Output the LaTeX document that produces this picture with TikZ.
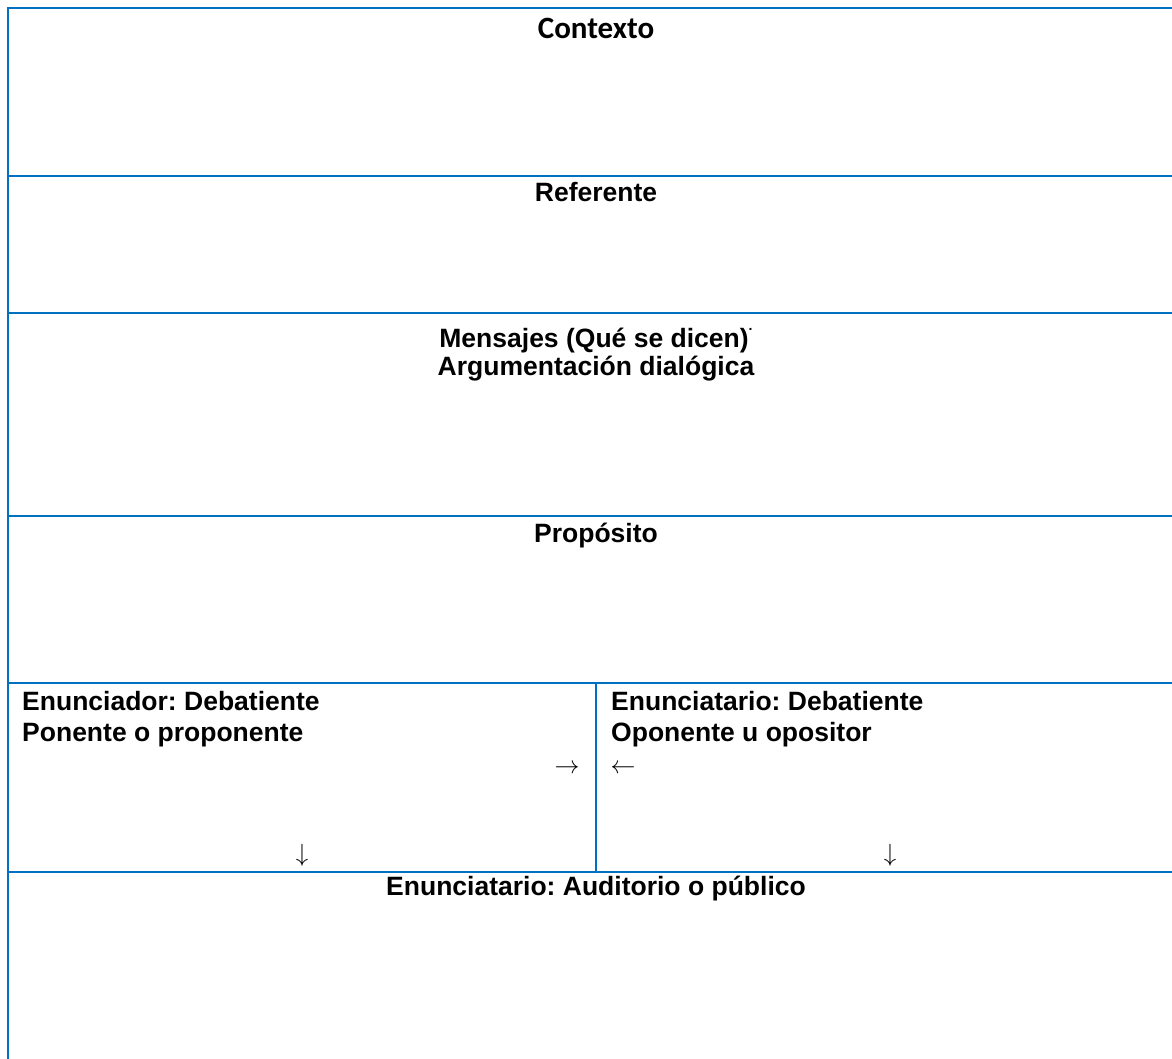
\documentclass[tikz,border=0pt]{standalone}
\usepackage{fontspec}
\setmainfont{Liberation Sans}
\newfontfamily\calibrifont{Carlito}
\definecolor{gridblue}{HTML}{0070C0}
\frenchspacing
\begin{document}
\begin{tikzpicture}[x=1pt,y=-1pt,
  gridline/.style={draw=gridblue,line width=2.4pt},
  lbl/.style={inner sep=0pt,anchor=base,font=\fontsize{26.5}{31}\selectfont\bfseries},
  lbll/.style={lbl,anchor=base west},
  ctx/.style={inner sep=0pt,anchor=base,font=\fontsize{31}{36}\selectfont\calibrifont\bfseries},
  arr/.style={inner sep=0pt,anchor=base,font=\fontsize{27}{31}\selectfont}]
\useasboundingbox (0,0) rectangle (1172,1059);
\fill[white] (0,0) rectangle (1172,1059);
% grid
\draw[gridline] (8,1059) -- (8,8) -- (1172,8);
\draw[gridline] (8,176) -- (1172,176);
\draw[gridline] (8,313) -- (1172,313);
\draw[gridline] (8,516) -- (1172,516);
\draw[gridline] (8,683) -- (1172,683);
\draw[gridline] (8,872) -- (1172,872);
\draw[gridline] (596,683) -- (596,872);
% texts
\node[ctx] (ctx) at (596,39) {Contexto};
\node[lbl] (ref) at (596,202) {Referente};
\node[lbl] (men1) at (596,347) {Mensajes (Qué se dicen)\raisebox{0.62em}{\fontsize{14}{14}\selectfont.}};
\node[lbl] (men2) at (596,375) {Argumentación dialógica};
\node[lbl] (prop) at (596,542) {Propósito};
\node[lbll] (en1) at (22,710) {Enunciador: Debatiente};
\node[lbll] (en2) at (22,741) {Ponente o proponente};
\node[lbll] (et1) at (611,710) {Enunciatario: Debatiente};
\node[lbll] (et2) at (611,741) {Oponente u opositor};
\node[arr] (ar1) at (567,773) {$\rightarrow$};
\node[arr] (ar2) at (623,773) {$\leftarrow$};
\node[arr] (ad1) at (302,861) {$\downarrow$};
\node[arr] (ad2) at (890,861) {$\downarrow$};
\node[lbl] (aud) at (596,895) {Enunciatario: Auditorio o público};
\end{tikzpicture}
\end{document}
